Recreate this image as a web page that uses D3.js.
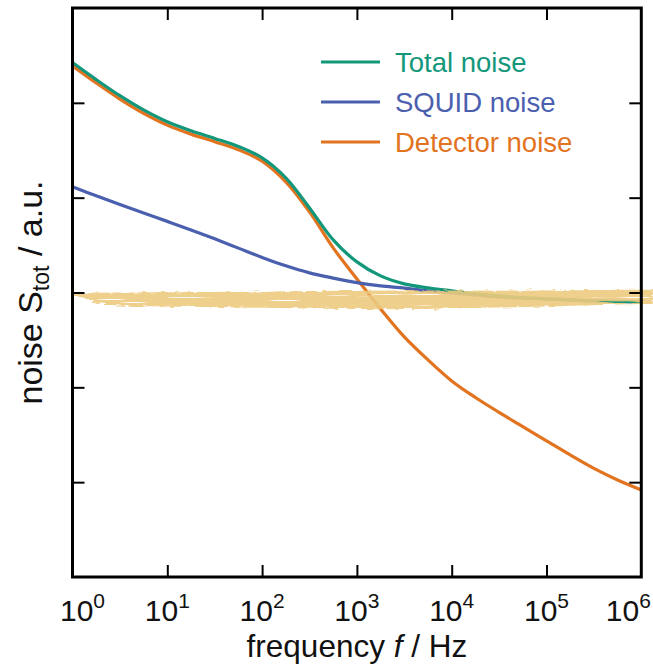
<!DOCTYPE html>
<html>
<head>
<meta charset="utf-8">
<script src="https://cdn.jsdelivr.net/npm/d3@7/dist/d3.min.js"></script>
<style>
  html, body { margin: 0; padding: 0; background: #fff; }
  svg { display: block; font-family: "Liberation Sans", Arial, sans-serif; }
</style>
</head>
<body>
<svg id="chart" width="653" height="672"></svg>
<script>
// ── Data ──────────────────────────────────────────────────
const freq = [1, 1.778, 3.162, 5.623, 10, 17.78, 31.62, 56.23, 100, 177.8, 316.2, 562.3,
              1000, 1778, 3162, 5623, 1e4, 17783, 31623, 56234, 1e5, 177828, 316228, 562341, 1e6];

const totalNoise = [5.425, 5.245, 5.075, 4.925, 4.800, 4.705, 4.625, 4.540, 4.420, 4.209, 3.892, 3.555,
                    3.323, 3.175, 3.091, 3.049, 3.017, 2.985, 2.964, 2.943, 2.932, 2.922, 2.911, 2.906, 2.901];
const squidNoise = [4.114, 4.020, 3.928, 3.838, 3.750, 3.660, 3.566, 3.468, 3.370, 3.281, 3.207, 3.152,
                    3.104, 3.070, 3.047, 3.017, 2.996, 2.975, 2.954, 2.943, 2.932, 2.922, 2.911, 2.906, 2.901];
const detectorNoise = [5.390, 5.210, 5.040, 4.890, 4.765, 4.670, 4.590, 4.505, 4.385, 4.167, 3.850, 3.470,
                       3.143, 2.827, 2.532, 2.289, 2.068, 1.893, 1.736, 1.586, 1.435, 1.287, 1.145, 1.023, 0.918];

// hand-drawn highlight band (lower / upper edge)
const bandFreq = [1, 1.4, 1.8, 10, 100, 1000, 1e4, 1e5, 1e6, 1.32e6];
const bandLo   = [2.96, 2.95, 2.86, 2.85, 2.84, 2.82, 2.83, 2.85, 2.88, 2.88];
const bandHi   = [2.99, 3.00, 3.00, 3.00, 3.01, 3.02, 3.02, 3.02, 3.03, 3.03];

const xTicks = [1, 10, 100, 1000, 1e4, 1e5, 1e6];
const xExps  = ['0', '1', '2', '3', '4', '5', '6'];
const yTicks = [1, 2, 3, 4, 5];

const seriesNames  = ['Total noise', 'SQUID noise', 'Detector noise'];
const seriesColors = ['#13977b', '#4a60ae', '#e2731f'];

// ── Setup ─────────────────────────────────────────────────
const svg = d3.select('#chart');
const L = 72.5, R = 641.3, T = 8, B = 577;

const x = d3.scaleLog().domain([1, 1e6]).range([L, R]);
const y = d3.scaleLinear().domain([0, 6]).range([B, T]);

// dry-brush filter for the highlight band
const defs = svg.append('defs');
const f = defs.append('filter').attr('id', 'brush')
  .attr('x', '-3%').attr('y', '-150%').attr('width', '106%').attr('height', '400%');
// fine grain → ragged edges
f.append('feTurbulence').attr('type', 'fractalNoise').attr('baseFrequency', '0.12 0.5')
  .attr('numOctaves', 2).attr('seed', 4).attr('result', 'n');
f.append('feDisplacementMap').attr('in', 'SourceGraphic').attr('in2', 'n').attr('scale', 5)
  .attr('xChannelSelector', 'R').attr('yChannelSelector', 'G').attr('result', 'd');
// horizontal streaks → small gaps
f.append('feTurbulence').attr('type', 'fractalNoise').attr('baseFrequency', '0.012 0.7')
  .attr('numOctaves', 3).attr('seed', 11).attr('result', 'n2');
f.append('feColorMatrix').attr('in', 'n2').attr('type', 'matrix')
  .attr('values', '0 0 0 0 0  0 0 0 0 0  0 0 0 0 0  12 0 0 0 -2.9').attr('result', 'mask');
f.append('feComposite').attr('in', 'd').attr('in2', 'mask').attr('operator', 'in');

// ── Curves ────────────────────────────────────────────────
const line = d3.line()
  .x((d, i) => x(freq[i]))
  .y(d => y(d))
  .curve(d3.curveCatmullRom.alpha(0.5));

[detectorNoise, squidNoise, totalNoise].forEach((vals, k) => {
  const color = [seriesColors[2], seriesColors[1], seriesColors[0]][k];
  svg.append('path')
    .attr('d', line(vals))
    .attr('fill', 'none')
    .attr('stroke', color)
    .attr('stroke-width', 3.2);
});

// ── Highlight band ────────────────────────────────────────
const band = d3.area()
  .x((d, i) => x(bandFreq[i]))
  .y0((d, i) => y(bandLo[i]))
  .y1((d, i) => y(bandHi[i]))
  .curve(d3.curveBasis);

svg.append('path')
  .attr('d', band(bandFreq))
  .attr('fill', '#edca7f')
  .attr('opacity', 0.9)
  .attr('filter', 'url(#brush)');

// ── Axes (inward ticks, no y labels) ──────────────────────
const tickLen = 12;
function styleAxis(g) {
  g.select('.domain').remove();
  g.selectAll('.tick line').attr('stroke', '#000').attr('stroke-width', 2);
  g.selectAll('.tick text').remove();
}
svg.append('g').attr('transform', `translate(0,${B})`)
  .call(d3.axisBottom(x).tickValues(xTicks.slice(1, -1)).tickSize(-tickLen)).call(styleAxis);
svg.append('g').attr('transform', `translate(0,${T})`)
  .call(d3.axisTop(x).tickValues(xTicks.slice(1, -1)).tickSize(-tickLen)).call(styleAxis);
svg.append('g').attr('transform', `translate(${L},0)`)
  .call(d3.axisLeft(y).tickValues(yTicks).tickSize(-tickLen)).call(styleAxis);
svg.append('g').attr('transform', `translate(${R},0)`)
  .call(d3.axisRight(y).tickValues(yTicks).tickSize(-tickLen)).call(styleAxis);

// frame
svg.append('rect')
  .attr('x', L).attr('y', T).attr('width', R - L).attr('height', B - T)
  .attr('fill', 'none').attr('stroke', '#000').attr('stroke-width', 3);

// x tick labels 10^n
xTicks.forEach((v, i) => {
  let cx = x(v);
  if (i === 0) cx += 10;
  if (i === xTicks.length - 1) cx -= 13;
  const t = svg.append('text')
    .attr('x', cx).attr('y', 621)
    .attr('text-anchor', 'middle')
    .attr('font-size', 30)
    .attr('fill', '#111');
  t.append('tspan').text('10');
  t.append('tspan').attr('font-size', 21).attr('dy', -13).text(xExps[i]);
});

// axis titles
const xt = svg.append('text')
  .attr('x', (L + R) / 2).attr('y', 657)
  .attr('text-anchor', 'middle').attr('font-size', 31.5).attr('fill', '#111');
xt.append('tspan').text('frequency ');
xt.append('tspan').attr('font-style', 'italic').text('f');
xt.append('tspan').text(' / Hz');

const yt = svg.append('text')
  .attr('transform', `translate(42,${(T + B) / 2}) rotate(-90)`)
  .attr('text-anchor', 'middle').attr('font-size', 34).attr('fill', '#111');
yt.append('tspan').text('noise S');
yt.append('tspan').attr('font-size', 23).attr('dy', 7).text('tot');
yt.append('tspan').attr('dy', -7).text(' / a.u.');

// ── Legend ────────────────────────────────────────────────
seriesNames.forEach((name, i) => {
  const ly = 62 + i * 40;
  svg.append('line')
    .attr('x1', 321).attr('x2', 380).attr('y1', ly).attr('y2', ly)
    .attr('stroke', seriesColors[i]).attr('stroke-width', 3);
  svg.append('text')
    .attr('x', 395).attr('y', ly)
    .attr('dominant-baseline', 'central')
    .attr('font-size', 27.5)
    .attr('fill', seriesColors[i])
    .text(name);
});
</script>
</body>
</html>
